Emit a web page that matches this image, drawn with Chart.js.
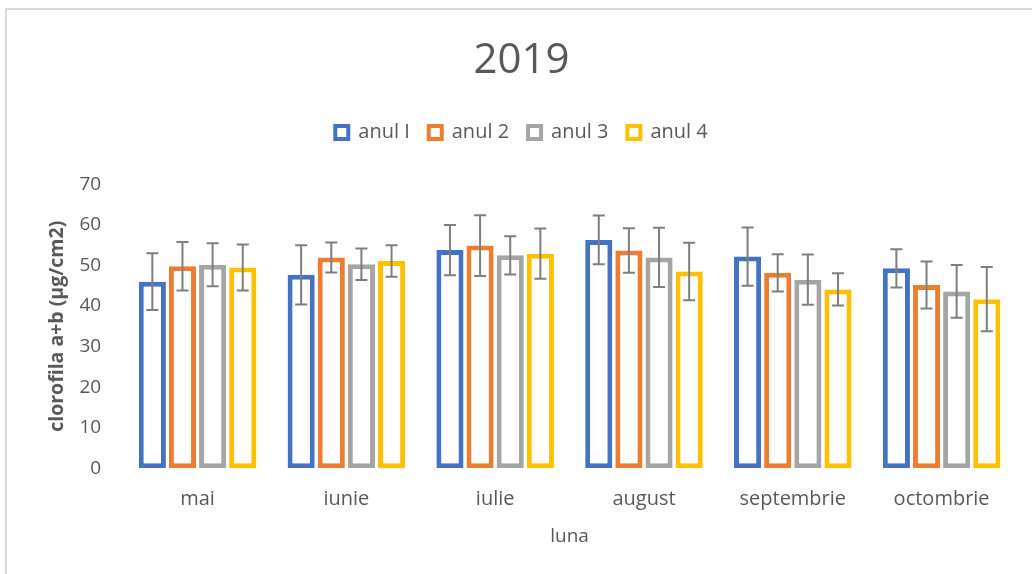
<!DOCTYPE html>
<html lang="ro">
    <head>
        <title>clorofila a+b 2019</title>
        <meta charset="utf-8">
        <script src="https://cdn.jsdelivr.net/npm/chart.js@4.4.1/dist/chart.umd.min.js"></script>
        <style>
            html, body {
                margin: 0;
                padding: 0;
                background: #ffffff;
                overflow: hidden;
            }
            #wrapper {
                position: relative;
                width: 1032px;
                height: 574px;
            }
            #frame { /* chart border, cut off on the right and bottom */
                position: absolute;
                left: 5px;
                top: 8px;
                width: 1100px;
                height: 700px;
                border: 2px solid #d9d9d9;
                pointer-events: none;
            }
        </style>
    </head>
    <body>
        <div id="wrapper">
            <canvas id="chlChart" width="1032" height="574"></canvas>
            <div id="frame"></div>
        </div>
        <script>
            // values
            var months = ['mai', 'iunie', 'iulie', 'august', 'septembrie', 'octombrie'];
            var seriesNames = ['anul I', 'anul 2', 'anul 3', 'anul 4'];
            var year1 = [46.0, 47.7, 53.8, 56.3, 52.2, 49.3];
            var year2 = [49.8, 52.0, 54.9, 53.7, 48.2, 45.2];
            var year3 = [50.2, 50.3, 52.5, 52.0, 46.5, 43.6];
            var year4 = [49.5, 51.1, 52.9, 48.5, 44.1, 41.7];
            // error bar half lengths
            var err1 = [7.0, 7.3, 6.2, 6.0, 7.2, 4.7];
            var err2 = [6.0, 3.7, 7.5, 5.5, 4.6, 5.8];
            var err3 = [5.3, 3.9, 4.7, 7.3, 6.2, 6.5];
            var err4 = [5.7, 3.9, 6.2, 7.1, 4.0, 7.9];
            var yTicks = [0, 10, 20, 30, 40, 50, 60, 70];

            var colors = ['#4472c4', '#ed7d31', '#a5a5a5', '#ffc000'];
            var values = [year1, year2, year3, year4];
            var errors = [err1, err2, err3, err4];
            var textColor = '#595959';
            var fontName = '"Open Sans", sans-serif';

            var datasets = [];
            for (var i = 0; i < seriesNames.length; i++) {
                datasets.push({
                    label: seriesNames[i],
                    data: values[i],
                    errors: errors[i],
                    backgroundColor: '#ffffff',
                    borderColor: colors[i],
                    borderWidth: 5,
                    borderSkipped: false,
                    categoryPercentage: 0.81,
                    barPercentage: 0.9
                });
            }

            // draws the whiskers with the y scale of the chart
            var errorBars = {
                id: 'errorBars',
                afterDatasetsDraw: function(chart) {
                    var ctx = chart.ctx;
                    var yScale = chart.scales.y;
                    ctx.save();
                    ctx.strokeStyle = '#7f7f7f';
                    ctx.lineWidth = 2;
                    chart.data.datasets.forEach(function(ds, di) {
                        var meta = chart.getDatasetMeta(di);
                        meta.data.forEach(function(bar, j) {
                            var top = yScale.getPixelForValue(ds.data[j] + ds.errors[j]);
                            var bottom = yScale.getPixelForValue(ds.data[j] - ds.errors[j]);
                            ctx.beginPath();
                            ctx.moveTo(bar.x, top);
                            ctx.lineTo(bar.x, bottom);
                            ctx.moveTo(bar.x - 6, top);
                            ctx.lineTo(bar.x + 6, top);
                            ctx.moveTo(bar.x - 6, bottom);
                            ctx.lineTo(bar.x + 6, bottom);
                            ctx.stroke();
                        });
                    });
                    ctx.restore();
                }
            };

            // extra room under the legend
            var legendGap = {
                id: 'legendGap',
                beforeInit: function(chart) {
                    var fit = chart.legend.fit;
                    chart.legend.fit = function() {
                        fit.call(this);
                        this.height += 32;
                    };
                }
            };

            var ctx = document.getElementById('chlChart').getContext('2d');
            var myChart = new Chart(ctx, {
                type: 'bar',
                data: {
                    labels: months,
                    datasets: datasets
                },
                plugins: [errorBars, legendGap],
                options: {
                    responsive: false,
                    animation: false,
                    layout: {
                        padding: { left: 27, right: 16, top: 22, bottom: 26 }
                    },
                    plugins: {
                        title: {
                            display: true,
                            text: '2019',
                            color: textColor,
                            font: { family: fontName, size: 42, weight: 'normal' },
                            padding: { top: 14, bottom: 17 }
                        },
                        legend: {
                            display: true,
                            position: 'top',
                            labels: {
                                color: textColor,
                                font: { family: fontName, size: 20 },
                                boxWidth: 13,
                                boxHeight: 13,
                                padding: 19,
                                generateLabels: function(chart) {
                                    var items = Chart.defaults.plugins.legend.labels.generateLabels(chart);
                                    items.forEach(function(it) {
                                        it.lineWidth = 4;
                                    });
                                    return items;
                                }
                            }
                        },
                        tooltip: { enabled: false }
                    },
                    scales: {
                        x: {
                            grid: { display: false, drawTicks: false },
                            border: { display: false },
                            ticks: {
                                color: textColor,
                                font: { family: fontName, size: 20 },
                                padding: 19
                            },
                            title: {
                                display: true,
                                text: 'luna',
                                color: textColor,
                                font: { family: fontName, size: 19 },
                                padding: { top: -5, bottom: 0 }
                            }
                        },
                        y: {
                            min: yTicks[0],
                            max: yTicks[yTicks.length - 1],
                            grid: { display: false, drawTicks: false },
                            border: { display: false },
                            ticks: {
                                stepSize: 10,
                                color: textColor,
                                font: { family: fontName, size: 19 },
                                padding: 22
                            },
                            title: {
                                display: true,
                                text: 'clorofila a+b (µg/cm2)',
                                color: textColor,
                                font: { family: fontName, size: 19.5, weight: 'bold' },
                                padding: { top: 19, bottom: -12 }
                            }
                        }
                    }
                }
            });
        </script>
    </body>
</html>
